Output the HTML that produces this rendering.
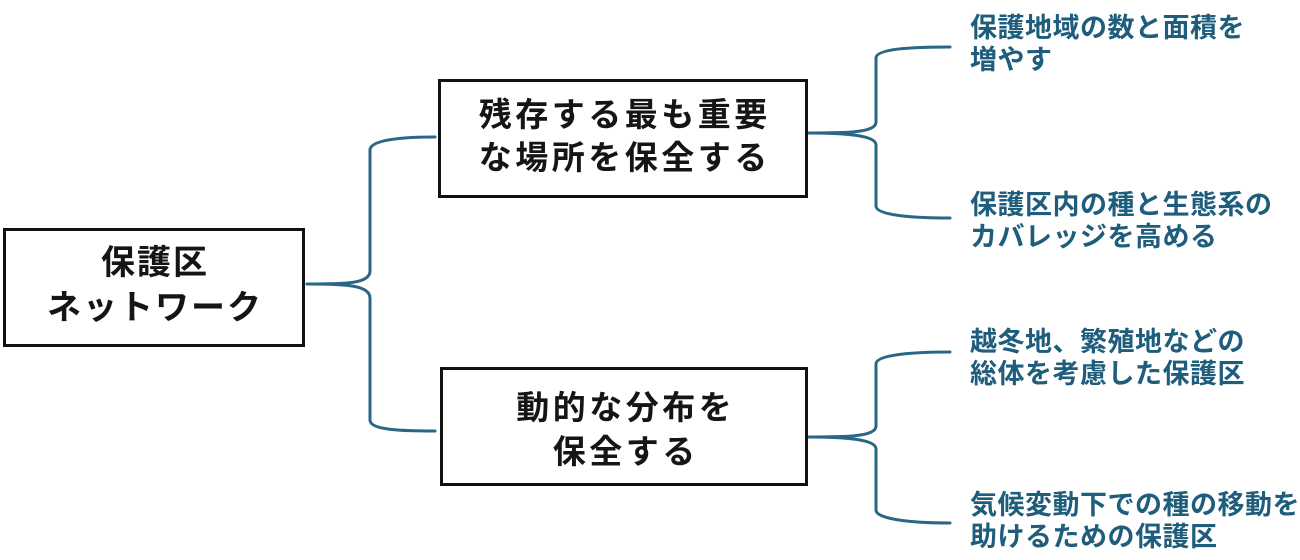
<!DOCTYPE html>
<html>
<head>
<meta charset="utf-8">
<style>
  html, body { margin:0; padding:0; background:#fff; }
  body { width:1300px; height:560px; position:relative; overflow:hidden;
         font-family: "Liberation Sans", "Noto Sans CJK JP", sans-serif; }
  .box { position:absolute; border:3px solid #111; box-sizing:border-box; background:#fff; }
  .bt { position:absolute; left:0; right:0; text-align:center; color:#151515; white-space:nowrap; font-weight:bold; }
  .rt { position:absolute; left:970px; color:#1f5d7c; font-size:27px; font-weight:bold; letter-spacing:0.5px; line-height:32px; white-space:nowrap; }
  svg { position:absolute; left:0; top:0; }
</style>
</head>
<body>
<svg width="1300" height="560" viewBox="0 0 1300 560">
  <g fill="none" stroke="#2a6685" stroke-width="3" stroke-linecap="round">
    <path d="M307,284 C345,284 370,284 370,271 L370,150 C370,140 400,137 435,137"/>
    <path d="M307,284 C345,284 370,285 370,298 L370,420 C370,430 400,431 435,431"/>
    <path d="M807,133 C845,133 876,133 876,122 L876,58 C876,49 910,47 950,47"/>
    <path d="M807,133 C845,133 876,135 876,145 L876,206 C876,215 910,218 950,218"/>
    <path d="M807,437 C845,437 876,437 876,426 L876,364 C876,355 910,352 950,352"/>
    <path d="M807,437 C845,437 876,439 876,449 L876,510 C876,519 910,523 950,523"/>
  </g>
</svg>

<div class="box" style="left:3px;top:228px;width:302px;height:119px;">
  <div class="bt" style="top:10px;font-size:34px;line-height:45px;letter-spacing:2px;text-indent:2px;">保護区</div>
  <div class="bt" style="top:55px;font-size:34px;line-height:45px;letter-spacing:2px;text-indent:2px;">ネットワーク</div>
</div>

<div class="box" style="left:438px;top:79px;width:370px;height:119px;">
  <div class="bt" style="top:11px;font-size:33px;line-height:43px;letter-spacing:3.5px;text-indent:3.5px;">残存する最も重要</div>
  <div class="bt" style="top:54px;font-size:33px;line-height:43px;letter-spacing:3.5px;text-indent:3.5px;">な場所を保全する</div>
</div>

<div class="box" style="left:440px;top:367px;width:368px;height:119px;">
  <div class="bt" style="top:16px;font-size:33px;line-height:43px;letter-spacing:3.5px;text-indent:3.5px;">動的な分布を</div>
  <div class="bt" style="top:60px;font-size:33px;line-height:43px;letter-spacing:3.5px;text-indent:3.5px;">保全する</div>
</div>

<div class="rt" style="top:12px;">保護地域の数と面積を<br>増やす</div>
<div class="rt" style="top:189px;">保護区内の種と生態系の<br>カバレッジを高める</div>
<div class="rt" style="top:326px;">越冬地、繁殖地などの<br>総体を考慮した保護区</div>
<div class="rt" style="top:489px;">気候変動下での種の移動を<br>助けるための保護区</div>
</body>
</html>
